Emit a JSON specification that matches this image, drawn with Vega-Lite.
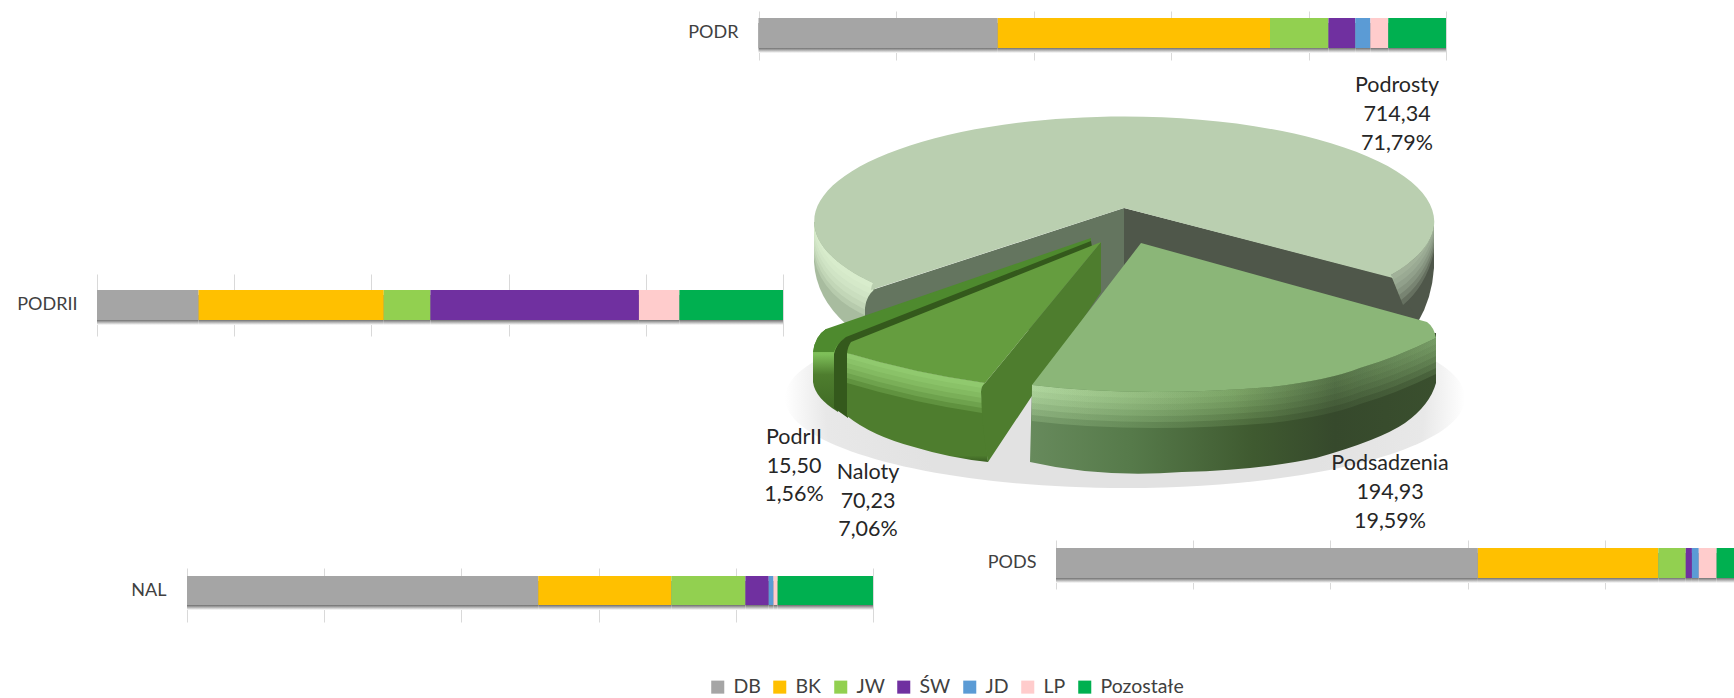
{"$schema":"https://vega.github.io/schema/vega-lite/v6.json","width":1734,"height":698,"padding":0,"autosize":"none","background":"white","config":{"view":{"stroke":null},"font":"Lato"},
"datasets":{"bars":[
{"bar":"PODR","species":"DB","rank":1,"share":34.8},{"bar":"PODR","species":"BK","rank":2,"share":39.6},{"bar":"PODR","species":"JW","rank":3,"share":8.5},{"bar":"PODR","species":"ŚW","rank":4,"share":3.9},{"bar":"PODR","species":"JD","rank":5,"share":2.2},{"bar":"PODR","species":"LP","rank":6,"share":2.6},{"bar":"PODR","species":"Pozostałe","rank":7,"share":8.4},
{"bar":"PODRII","species":"DB","rank":1,"share":14.8},{"bar":"PODRII","species":"BK","rank":2,"share":27.0},{"bar":"PODRII","species":"JW","rank":3,"share":6.8},{"bar":"PODRII","species":"ŚW","rank":4,"share":30.4},{"bar":"PODRII","species":"JD","rank":5,"share":0},{"bar":"PODRII","species":"LP","rank":6,"share":5.9},{"bar":"PODRII","species":"Pozostałe","rank":7,"share":15.1},
{"bar":"NAL","species":"DB","rank":1,"share":51.2},{"bar":"NAL","species":"BK","rank":2,"share":19.4},{"bar":"NAL","species":"JW","rank":3,"share":10.8},{"bar":"NAL","species":"ŚW","rank":4,"share":3.4},{"bar":"NAL","species":"JD","rank":5,"share":0.7},{"bar":"NAL","species":"LP","rank":6,"share":0.6},{"bar":"NAL","species":"Pozostałe","rank":7,"share":13.9},
{"bar":"PODS","species":"DB","rank":1,"share":61.5},{"bar":"PODS","species":"BK","rank":2,"share":26.3},{"bar":"PODS","species":"JW","rank":3,"share":4.0},{"bar":"PODS","species":"ŚW","rank":4,"share":0.9},{"bar":"PODS","species":"JD","rank":5,"share":1.0},{"bar":"PODS","species":"LP","rank":6,"share":2.6},{"bar":"PODS","species":"Pozostałe","rank":7,"share":3.7}],
"pie":[{"category":"Podrosty","value":714.34,"percent":71.79,"valueText":"714,34","percentText":"71,79%"},{"category":"Podsadzenia","value":194.93,"percent":19.59,"valueText":"194,93","percentText":"19,59%"},{"category":"Naloty","value":70.23,"percent":7.06,"valueText":"70,23","percentText":"7,06%"},{"category":"PodrII","value":15.5,"percent":1.56,"valueText":"15,50","percentText":"1,56%"}]},
"layer":[
{"data":{"name":"pie"},"encoding":{"x":{"field":"category","type":"nominal","axis":null,"scale":{"type":"point","domain":["Podrosty","Podsadzenia","Naloty","PodrII"],"range":[0,0]}},"y":{"field":"category","type":"nominal","axis":null,"scale":{"type":"point","domain":["Podrosty","Podsadzenia","Naloty","PodrII"],"range":[0,0]}}},
"layer":[
{"transform":[{"filter":"datum.category==='Podsadzenia'"}],"mark":{"type":"point","shape":"M785 398 a340 90 0 1 0 680 0 a340 90 0 1 0 -680 0 Z","size":4,"filled":true,"opacity":1,"strokeWidth":0,"fill":{"gradient":"radial","x1":0.5,"y1":0.5,"r1":0.3,"x2":0.5,"y2":0.5,"r2":0.5,"stops":[{"offset":0,"color":"#E2E2E2"},{"offset":0.7,"color":"#E8E8E8"},{"offset":1,"color":"#FFFFFF"}]}}},
{"transform":[{"filter":"datum.category==='Podrosty'"}],"mark":{"type":"point","shape":"M814 222 L814 262 Q816 298 847 325 L875 325 L875 222 Z","size":4,"filled":true,"opacity":1,"strokeWidth":0,"fill":"#A8BC9F"}},
{"transform":[{"filter":"datum.category==='Podrosty'"}],"mark":{"type":"point","shape":"M814 222 A310 105 0 0 0 873 283 L873 319 Q822 298 814 258 Z","size":4,"filled":true,"opacity":0.25,"strokeWidth":0,"fill":"#E4F8D6"}},
{"transform":[{"filter":"datum.category==='Podrosty'"}],"mark":{"type":"point","shape":"M814 222 A310 105 0 0 0 873 283 L873 313 Q822 292 814 252 Z","size":4,"filled":true,"opacity":0.25,"strokeWidth":0,"fill":"#E4F8D6"}},
{"transform":[{"filter":"datum.category==='Podrosty'"}],"mark":{"type":"point","shape":"M814 222 A310 105 0 0 0 873 283 L873 307 Q822 286 814 246 Z","size":4,"filled":true,"opacity":0.25,"strokeWidth":0,"fill":"#E4F8D6"}},
{"transform":[{"filter":"datum.category==='Podrosty'"}],"mark":{"type":"point","shape":"M814 222 A310 105 0 0 0 873 283 L873 301 Q822 280 814 240 Z","size":4,"filled":true,"opacity":0.25,"strokeWidth":0,"fill":"#E4F8D6"}},
{"transform":[{"filter":"datum.category==='Podrosty'"}],"mark":{"type":"point","shape":"M814 222 A310 105 0 0 0 873 283 L873 295 Q822 274 814 234 Z","size":4,"filled":true,"opacity":0.25,"strokeWidth":0,"fill":"#E4F8D6"}},
{"transform":[{"filter":"datum.category==='Podrosty'"}],"mark":{"type":"point","shape":"M814 222 A310 105 0 0 0 873 283 L873 289 Q822 268 814 228 Z","size":4,"filled":true,"opacity":0.25,"strokeWidth":0,"fill":"#E4F8D6"}},
{"transform":[{"filter":"datum.category==='Podrosty'"}],"mark":{"type":"point","shape":"M1434 222 L1434 268 Q1432 298 1418 322 L1380 322 L1380 222 Z","size":4,"filled":true,"opacity":1,"strokeWidth":0,"fill":"#4F574A"}},
{"transform":[{"filter":"datum.category==='Podrosty'"}],"mark":{"type":"point","shape":"M1124 208 L1124 285 L1112 292 L1090 330 L865 330 L865 308 Q866 296 875 289 Z","size":4,"filled":true,"opacity":1,"strokeWidth":0,"fill":"#64755F"}},
{"transform":[{"filter":"datum.category==='Podrosty'"}],"mark":{"type":"point","shape":"M1124 208 L1392 277 Q1400 285 1402 296 L1420 322 L1140 290 L1124 285 Z","size":4,"filled":true,"opacity":1,"strokeWidth":0,"fill":"#4F574A"}},
{"transform":[{"filter":"datum.category==='Podrosty'"}],"mark":{"type":"point","shape":"M1434 222 A310 105 0 0 1 1391 275 L1403 305 Q1426 286 1434 252 Z","size":4,"filled":true,"opacity":0.22,"strokeWidth":0,"fill":"#BACFB0"}},
{"transform":[{"filter":"datum.category==='Podrosty'"}],"mark":{"type":"point","shape":"M1434 222 A310 105 0 0 1 1391 275 L1401 300 Q1426 281 1434 247 Z","size":4,"filled":true,"opacity":0.22,"strokeWidth":0,"fill":"#BACFB0"}},
{"transform":[{"filter":"datum.category==='Podrosty'"}],"mark":{"type":"point","shape":"M1434 222 A310 105 0 0 1 1391 275 L1399 295 Q1426 276 1434 242 Z","size":4,"filled":true,"opacity":0.22,"strokeWidth":0,"fill":"#BACFB0"}},
{"transform":[{"filter":"datum.category==='Podrosty'"}],"mark":{"type":"point","shape":"M1434 222 A310 105 0 0 1 1391 275 L1397 290 Q1426 271 1434 237 Z","size":4,"filled":true,"opacity":0.22,"strokeWidth":0,"fill":"#BACFB0"}},
{"transform":[{"filter":"datum.category==='Podrosty'"}],"mark":{"type":"point","shape":"M1434 222 A310 105 0 0 1 1391 275 L1395 285 Q1426 266 1434 232 Z","size":4,"filled":true,"opacity":0.22,"strokeWidth":0,"fill":"#BACFB0"}},
{"transform":[{"filter":"datum.category==='Podrosty'"}],"mark":{"type":"point","shape":"M1434 222 A310 105 0 0 1 1391 275 L1393 280 Q1426 261 1434 227 Z","size":4,"filled":true,"opacity":0.22,"strokeWidth":0,"fill":"#BACFB0"}},
{"transform":[{"filter":"datum.category==='Podrosty'"}],"mark":{"type":"point","shape":"M1124 208 L871 290 Q871 286 873 283 A310 105 0 1 1 1391 275 L1393 278 Z","size":4,"filled":true,"opacity":1,"strokeWidth":0,"fill":"#BACFB0"}},
{"transform":[{"filter":"datum.category==='PodrII'"}],"mark":{"type":"point","shape":"M813 352 L813 382 Q815 398 838 412 L850 352 Q835 330 826 329 Q815 336 813 352 Z","size":4,"filled":true,"opacity":1,"strokeWidth":0,"fill":{"gradient":"linear","x1":0,"y1":0,"x2":0,"y2":1,"stops":[{"offset":0,"color":"#4E8A2E"},{"offset":0.3,"color":"#7FC05A"},{"offset":0.55,"color":"#4E7D2E"},{"offset":1,"color":"#3F6A24"}]}}},
{"transform":[{"filter":"datum.category==='PodrII'"}],"mark":{"type":"point","shape":"M1091 238 L826 329 Q815 336 813 352 L834 352 Q836 344 846 338 L1091 244 Z","size":4,"filled":true,"opacity":1,"strokeWidth":0,"fill":"#4E8A2E"}},
{"transform":[{"filter":"datum.category==='PodrII'"}],"mark":{"type":"point","shape":"M1091 241 L846 337 Q836 344 834 354 L834 408 L848 418 L848 353 Q849 346 855 342 L1092 247 Z","size":4,"filled":true,"opacity":1,"strokeWidth":0,"fill":"#34591C"}},
{"transform":[{"filter":"datum.category==='Naloty'"}],"mark":{"type":"point","shape":"M847 353 L847 416 Q872 436 914 447 Q950 458 988 462 L981 392 Q981 386 985 383 Q914 373 847 353 Z","size":4,"filled":true,"opacity":1,"strokeWidth":0,"fill":{"gradient":"linear","x1":0,"y1":0,"x2":0,"y2":1,"stops":[{"offset":0,"color":"#4E7D2E"},{"offset":0.94,"color":"#4E7D2E"},{"offset":1,"color":"#3A5E22"}]}}},
{"transform":[{"filter":"datum.category==='Naloty'"}],"mark":{"type":"point","shape":"M847 353 Q914 373 985 383 L982 413 Q914 403 847 383 Z","size":4,"filled":true,"opacity":0.2,"strokeWidth":0,"fill":"#A8E488"}},
{"transform":[{"filter":"datum.category==='Naloty'"}],"mark":{"type":"point","shape":"M847 353 Q914 373 985 383 L982 408 Q914 398 847 378 Z","size":4,"filled":true,"opacity":0.2,"strokeWidth":0,"fill":"#A8E488"}},
{"transform":[{"filter":"datum.category==='Naloty'"}],"mark":{"type":"point","shape":"M847 353 Q914 373 985 383 L982 403 Q914 393 847 373 Z","size":4,"filled":true,"opacity":0.2,"strokeWidth":0,"fill":"#A8E488"}},
{"transform":[{"filter":"datum.category==='Naloty'"}],"mark":{"type":"point","shape":"M847 353 Q914 373 985 383 L982 398 Q914 388 847 368 Z","size":4,"filled":true,"opacity":0.2,"strokeWidth":0,"fill":"#A8E488"}},
{"transform":[{"filter":"datum.category==='Naloty'"}],"mark":{"type":"point","shape":"M847 353 Q914 373 985 383 L982 393 Q914 383 847 363 Z","size":4,"filled":true,"opacity":0.2,"strokeWidth":0,"fill":"#A8E488"}},
{"transform":[{"filter":"datum.category==='Naloty'"}],"mark":{"type":"point","shape":"M847 353 Q914 373 985 383 L982 388 Q914 378 847 358 Z","size":4,"filled":true,"opacity":0.2,"strokeWidth":0,"fill":"#A8E488"}},
{"transform":[{"filter":"datum.category==='Naloty'"}],"mark":{"type":"point","shape":"M1101 242 L1101 292 L988 462 Q982 430 981 392 Q981 386 985 383 Z","size":4,"filled":true,"opacity":1,"strokeWidth":0,"fill":"#4E7D2E"}},
{"transform":[{"filter":"datum.category==='Naloty'"}],"mark":{"type":"point","shape":"M1101 242 L851 342 Q848 346 847 353 Q914 373 985 383 Z","size":4,"filled":true,"opacity":1,"strokeWidth":0,"fill":"#659D3F"}},
{"transform":[{"filter":"datum.category==='Podsadzenia'"}],"mark":{"type":"point","shape":"M1032 385 L1030 462 Q1100 478 1182 472 Q1260 470 1316 458 Q1380 440 1405 423 Q1430 405 1436 383 L1436 333 L1300 340 Z","size":4,"filled":true,"opacity":1,"strokeWidth":0,"fill":{"gradient":"linear","x1":0,"y1":0,"x2":1,"y2":0,"stops":[{"offset":0,"color":"#678A5C"},{"offset":0.25,"color":"#567A4A"},{"offset":0.55,"color":"#3F5A30"},{"offset":0.75,"color":"#36492C"},{"offset":1,"color":"#3A4F2E"}]}}},
{"transform":[{"filter":"datum.category==='Podsadzenia'"}],"mark":{"type":"point","shape":"M1032 385 Q1137 398 1271 387 Q1330 380 1360 368 Q1395 358 1436 338 L1436 374 Q1395 394 1360 404 Q1330 416 1271 423 Q1137 434 1032 421 Z","size":4,"filled":true,"opacity":0.2,"strokeWidth":0,"fill":{"gradient":"linear","x1":0,"y1":0,"x2":1,"y2":0,"stops":[{"offset":0,"color":"#C8F0B4"},{"offset":0.5,"color":"#90BC78"},{"offset":0.75,"color":"#5F7F50"},{"offset":1,"color":"#8BB678"}]}}},
{"transform":[{"filter":"datum.category==='Podsadzenia'"}],"mark":{"type":"point","shape":"M1032 385 Q1137 398 1271 387 Q1330 380 1360 368 Q1395 358 1436 338 L1436 368 Q1395 388 1360 398 Q1330 410 1271 417 Q1137 428 1032 415 Z","size":4,"filled":true,"opacity":0.2,"strokeWidth":0,"fill":{"gradient":"linear","x1":0,"y1":0,"x2":1,"y2":0,"stops":[{"offset":0,"color":"#C8F0B4"},{"offset":0.5,"color":"#90BC78"},{"offset":0.75,"color":"#5F7F50"},{"offset":1,"color":"#8BB678"}]}}},
{"transform":[{"filter":"datum.category==='Podsadzenia'"}],"mark":{"type":"point","shape":"M1032 385 Q1137 398 1271 387 Q1330 380 1360 368 Q1395 358 1436 338 L1436 362 Q1395 382 1360 392 Q1330 404 1271 411 Q1137 422 1032 409 Z","size":4,"filled":true,"opacity":0.2,"strokeWidth":0,"fill":{"gradient":"linear","x1":0,"y1":0,"x2":1,"y2":0,"stops":[{"offset":0,"color":"#C8F0B4"},{"offset":0.5,"color":"#90BC78"},{"offset":0.75,"color":"#5F7F50"},{"offset":1,"color":"#8BB678"}]}}},
{"transform":[{"filter":"datum.category==='Podsadzenia'"}],"mark":{"type":"point","shape":"M1032 385 Q1137 398 1271 387 Q1330 380 1360 368 Q1395 358 1436 338 L1436 356 Q1395 376 1360 386 Q1330 398 1271 405 Q1137 416 1032 403 Z","size":4,"filled":true,"opacity":0.2,"strokeWidth":0,"fill":{"gradient":"linear","x1":0,"y1":0,"x2":1,"y2":0,"stops":[{"offset":0,"color":"#C8F0B4"},{"offset":0.5,"color":"#90BC78"},{"offset":0.75,"color":"#5F7F50"},{"offset":1,"color":"#8BB678"}]}}},
{"transform":[{"filter":"datum.category==='Podsadzenia'"}],"mark":{"type":"point","shape":"M1032 385 Q1137 398 1271 387 Q1330 380 1360 368 Q1395 358 1436 338 L1436 350 Q1395 370 1360 380 Q1330 392 1271 399 Q1137 410 1032 397 Z","size":4,"filled":true,"opacity":0.2,"strokeWidth":0,"fill":{"gradient":"linear","x1":0,"y1":0,"x2":1,"y2":0,"stops":[{"offset":0,"color":"#C8F0B4"},{"offset":0.5,"color":"#90BC78"},{"offset":0.75,"color":"#5F7F50"},{"offset":1,"color":"#8BB678"}]}}},
{"transform":[{"filter":"datum.category==='Podsadzenia'"}],"mark":{"type":"point","shape":"M1032 385 Q1137 398 1271 387 Q1330 380 1360 368 Q1395 358 1436 338 L1436 344 Q1395 364 1360 374 Q1330 386 1271 393 Q1137 404 1032 391 Z","size":4,"filled":true,"opacity":0.2,"strokeWidth":0,"fill":{"gradient":"linear","x1":0,"y1":0,"x2":1,"y2":0,"stops":[{"offset":0,"color":"#C8F0B4"},{"offset":0.5,"color":"#90BC78"},{"offset":0.75,"color":"#5F7F50"},{"offset":1,"color":"#8BB678"}]}}},
{"transform":[{"filter":"datum.category==='Podsadzenia'"}],"mark":{"type":"point","shape":"M1141 243 L1427 322 Q1434 327 1436 338 Q1395 358 1360 368 Q1330 380 1271 387 Q1137 398 1032 385 Z","size":4,"filled":true,"opacity":1,"strokeWidth":0,"fill":"#8BB678"}}
]},
{"data":{"name":"bars"},"transform":[{"filter":"datum.bar==='PODR'"}],"encoding":{"x":{"field":"share","type":"quantitative","stack":true,"title":null,"scale":{"domain":[0,100],"range":[758.5,1446],"nice":false,"zero":false},"axis":{"orient":"bottom","offset":-687,"tickSize":49,"domain":false,"labels":false,"grid":false,"title":null,"tickColor":"#D9D9D9","values":[0,20,40,60,80,100]}},"y":{"field":"bar","type":"nominal","title":null,"scale":{"type":"band","domain":["PODR"],"range":[18,48],"paddingInner":0,"paddingOuter":0},"axis":{"orient":"left","offset":-738,"domain":false,"ticks":false,"grid":false,"labelPadding":0,"title":null,"labelFont":"Lato","labelFontSize":18,"labelColor":"#404040"}},"order":{"field":"rank"}},
"layer":[{"mark":{"type":"bar","yOffset":5,"fill":{"gradient":"linear","x1":0,"y1":0,"x2":0,"y2":1,"stops":[{"offset":0.83,"color":"#6F6F6F"},{"offset":1,"color":"#FFFFFF"}]}}},{"mark":{"type":"bar"},"encoding":{"color":{"field":"species","type":"nominal","scale":{"domain":["DB","BK","JW","ŚW","JD","LP","Pozostałe"],"range":["#A5A5A5","#FFC000","#92D050","#7030A0","#5B9BD5","#FFCCCC","#00B050"]},"legend":{"orient":"none","legendX":708,"legendY":677,"direction":"horizontal","columns":7,"title":null,"symbolType":"square","symbolSize":170,"symbolStrokeWidth":0,"labelFont":"Lato","labelFontSize":19.5,"labelColor":"#404040","columnPadding":9,"labelOffset":6}}}}]},
{"data":{"name":"bars"},"transform":[{"filter":"datum.bar==='PODRII'"}],"encoding":{"x":{"field":"share","type":"quantitative","stack":true,"title":null,"scale":{"domain":[0,100],"range":[97,783],"nice":false,"zero":false},"axis":{"orient":"bottom","offset":-424,"tickSize":62,"domain":false,"labels":false,"grid":false,"title":null,"tickColor":"#D9D9D9","values":[0,20,40,60,80,100]}},"y":{"field":"bar","type":"nominal","title":null,"scale":{"type":"band","domain":["PODRII"],"range":[290,320],"paddingInner":0,"paddingOuter":0},"axis":{"orient":"left","offset":-77,"domain":false,"ticks":false,"grid":false,"labelPadding":0,"title":null,"labelFont":"Lato","labelFontSize":18,"labelColor":"#404040"}},"order":{"field":"rank"}},
"layer":[{"mark":{"type":"bar","yOffset":5,"fill":{"gradient":"linear","x1":0,"y1":0,"x2":0,"y2":1,"stops":[{"offset":0.83,"color":"#6F6F6F"},{"offset":1,"color":"#FFFFFF"}]}}},{"mark":{"type":"bar"},"encoding":{"color":{"field":"species","type":"nominal"}}}]},
{"data":{"name":"bars"},"transform":[{"filter":"datum.bar==='NAL'"}],"encoding":{"x":{"field":"share","type":"quantitative","stack":true,"title":null,"scale":{"domain":[0,100],"range":[187,873],"nice":false,"zero":false},"axis":{"orient":"bottom","offset":-130,"tickSize":54,"domain":false,"labels":false,"grid":false,"title":null,"tickColor":"#D9D9D9","values":[0,20,40,60,80,100]}},"y":{"field":"bar","type":"nominal","title":null,"scale":{"type":"band","domain":["NAL"],"range":[576,605],"paddingInner":0,"paddingOuter":0},"axis":{"orient":"left","offset":-166,"domain":false,"ticks":false,"grid":false,"labelPadding":0,"title":null,"labelFont":"Lato","labelFontSize":18,"labelColor":"#404040"}},"order":{"field":"rank"}},
"layer":[{"mark":{"type":"bar","yOffset":5,"fill":{"gradient":"linear","x1":0,"y1":0,"x2":0,"y2":1,"stops":[{"offset":0.83,"color":"#6F6F6F"},{"offset":1,"color":"#FFFFFF"}]}}},{"mark":{"type":"bar"},"encoding":{"color":{"field":"species","type":"nominal"}}}]},
{"data":{"name":"bars"},"transform":[{"filter":"datum.bar==='PODS'"}],"encoding":{"x":{"field":"share","type":"quantitative","stack":true,"title":null,"scale":{"domain":[0,100],"range":[1056,1742],"nice":false,"zero":false},"axis":{"orient":"bottom","offset":-158,"tickSize":49,"domain":false,"labels":false,"grid":false,"title":null,"tickColor":"#D9D9D9","values":[0,20,40,60,80,100]}},"y":{"field":"bar","type":"nominal","title":null,"scale":{"type":"band","domain":["PODS"],"range":[548,578],"paddingInner":0,"paddingOuter":0},"axis":{"orient":"left","offset":-1036,"domain":false,"ticks":false,"grid":false,"labelPadding":0,"title":null,"labelFont":"Lato","labelFontSize":18,"labelColor":"#404040"}},"order":{"field":"rank"}},
"layer":[{"mark":{"type":"bar","yOffset":5,"fill":{"gradient":"linear","x1":0,"y1":0,"x2":0,"y2":1,"stops":[{"offset":0.83,"color":"#6F6F6F"},{"offset":1,"color":"#FFFFFF"}]}}},{"mark":{"type":"bar"},"encoding":{"color":{"field":"species","type":"nominal"}}}]},
{"data":{"name":"pie"},"transform":[{"filter":"datum.category==='Podrosty'"},{"fold":["category","valueText","percentText"],"as":["line","labelText"]}],"mark":{"type":"text","font":"Lato","fontSize":21.5,"color":"#262626","align":"center","baseline":"middle"},"encoding":{"text":{"field":"labelText","type":"nominal"},"x":{"field":"category","type":"nominal","axis":null,"scale":{"type":"point","domain":["Podrosty"],"range":[1397,1397],"padding":0}},"y":{"field":"line","type":"nominal","axis":null,"scale":{"type":"point","domain":["category","valueText","percentText"],"range":[86,144],"padding":0}}}},
{"data":{"name":"pie"},"transform":[{"filter":"datum.category==='Podsadzenia'"},{"fold":["category","valueText","percentText"],"as":["line","labelText"]}],"mark":{"type":"text","font":"Lato","fontSize":21.5,"color":"#262626","align":"center","baseline":"middle"},"encoding":{"text":{"field":"labelText","type":"nominal"},"x":{"field":"category","type":"nominal","axis":null,"scale":{"type":"point","domain":["Podsadzenia"],"range":[1390,1390],"padding":0}},"y":{"field":"line","type":"nominal","axis":null,"scale":{"type":"point","domain":["category","valueText","percentText"],"range":[464,522],"padding":0}}}},
{"data":{"name":"pie"},"transform":[{"filter":"datum.category==='Naloty'"},{"fold":["category","valueText","percentText"],"as":["line","labelText"]}],"mark":{"type":"text","font":"Lato","fontSize":21.5,"color":"#262626","align":"center","baseline":"middle"},"encoding":{"text":{"field":"labelText","type":"nominal"},"x":{"field":"category","type":"nominal","axis":null,"scale":{"type":"point","domain":["Naloty"],"range":[868,868],"padding":0}},"y":{"field":"line","type":"nominal","axis":null,"scale":{"type":"point","domain":["category","valueText","percentText"],"range":[473,530],"padding":0}}}},
{"data":{"name":"pie"},"transform":[{"filter":"datum.category==='PodrII'"},{"fold":["category","valueText","percentText"],"as":["line","labelText"]}],"mark":{"type":"text","font":"Lato","fontSize":21.5,"color":"#262626","align":"center","baseline":"middle"},"encoding":{"text":{"field":"labelText","type":"nominal"},"x":{"field":"category","type":"nominal","axis":null,"scale":{"type":"point","domain":["PodrII"],"range":[794,794],"padding":0}},"y":{"field":"line","type":"nominal","axis":null,"scale":{"type":"point","domain":["category","valueText","percentText"],"range":[438,495],"padding":0}}}}
],
"resolve":{"scale":{"x":"independent","y":"independent"},"axis":{"x":"independent","y":"independent"}}}
